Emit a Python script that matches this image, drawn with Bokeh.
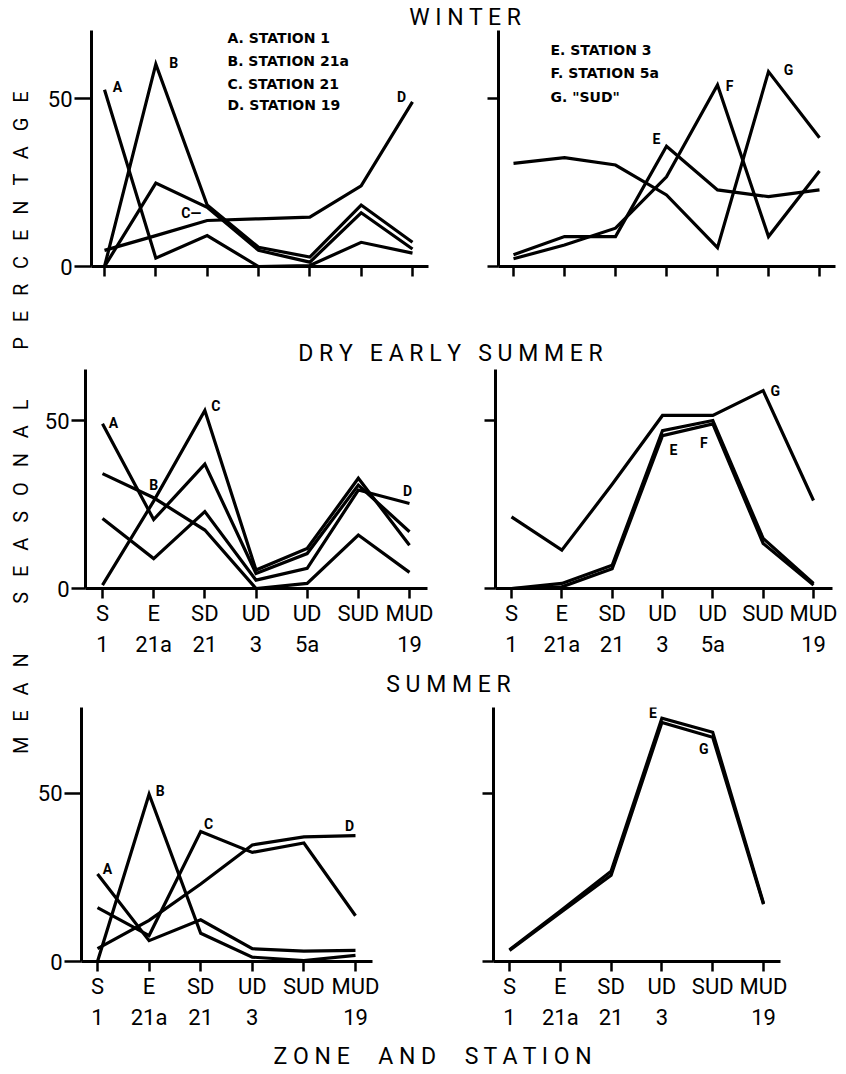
from math import pi
from bokeh.plotting import figure
from bokeh.models import Range1d, FixedTicker, Label
from bokeh.layouts import row, column
from bokeh.embed import file_html
from bokeh.resources import INLINE

# ---------------- data ----------------
zones_seven = ["S\n1", "E\n21a", "SD\n21", "UD\n3", "UD\n5a", "SUD", "MUD\n19"]
zones_six = ["S\n1", "E\n21a", "SD\n21", "UD\n3", "SUD", "MUD\n19"]
y_ticks = [0, 50]

winter_A = [52.6, 2.5, 9.2, 0.0, 0.3, 7.2, 4.0]
winter_B = [0.0, 60.2, 18.3, 5.7, 2.8, 18.3, 7.2]
winter_C = [0.0, 24.8, 17.6, 4.8, 1.3, 16.0, 5.2]
winter_D = [4.8, 9.2, 13.7, 14.2, 14.7, 24.0, 49.0]
winter_E = [3.5, 8.9, 8.9, 35.8, 22.8, 20.8, 22.8]
winter_F = [2.3, 6.4, 11.4, 26.7, 54.0, 8.9, 28.4]
winter_G = [30.7, 32.4, 30.2, 21.3, 5.6, 58.0, 38.3]

dry_A = [49.0, 20.5, 37.0, 4.5, 10.4, 30.8, 16.9]
dry_B = [34.2, 27.0, 17.4, 0.0, 1.5, 15.9, 4.8]
dry_C = [1.0, 26.0, 53.0, 5.5, 11.9, 32.8, 12.9]
dry_D = [20.8, 8.9, 22.9, 2.5, 6.0, 29.3, 25.3]
dry_E = [0.0, 0.5, 5.9, 45.5, 49.0, 13.4, 1.0]
dry_F = [0.0, 1.5, 6.9, 47.0, 50.0, 14.9, 1.5]
dry_G = [21.3, 11.4, 31.0, 51.5, 51.5, 58.9, 26.2]

summer_A = [26.0, 6.2, 12.4, 3.8, 3.1, 3.3]
summer_B = [0.0, 49.7, 8.4, 1.3, 0.3, 1.8]
summer_C = [16.0, 7.7, 38.6, 32.4, 35.2, 13.6]
summer_D = [3.8, 12.2, 23.0, 34.6, 37.0, 37.4]
summer_E = [3.5, 15.0, 26.8, 72.3, 68.1, 17.3]
summer_G = [3.3, 14.5, 25.6, 71.0, 66.6, 17.0]

legend_left = ["A. STATION 1", "B. STATION 21a", "C. STATION 21", "D. STATION 19"]
legend_right = ["E. STATION 3", "F. STATION 5a", 'G. "SUD"']

NB = "\u00a0"


def spaced(words, k_letter, k_word):
    sep_l = " " + NB * (k_letter - 1)
    sep_w = " " + NB * (k_word - 1)
    return sep_w.join(sep_l.join(list(w)) for w in words)


# ---------------- helpers ----------------
def panel(geo, series, tags, xlabels, show_y, legend=None, legend_pos=None):
    fl, ft, w, h = geo["left"], geo["top"], geo["w"], geo["h"]
    frl, frr, frt, frb = geo["fl"], geo["fr"], geo["ft"], geo["fb"]
    n = len(xlabels)
    ppx = (geo["t_last"] - geo["t_first"]) / (n - 1)
    ppy = geo["ppy"]
    xs0 = 1 - (geo["t_first"] - frl) / ppx
    xs1 = xs0 + (frr - frl) / ppx
    ys1 = (frb - frt) / ppy
    p = figure(width=w, height=h, x_range=Range1d(xs0, xs1), y_range=Range1d(0, ys1),
               toolbar_location=None, tools="", output_backend="svg",
               min_border_left=frl - fl, min_border_right=fl + w - frr,
               min_border_top=frt - ft, min_border_bottom=ft + h - frb,
               outline_line_color=None, background_fill_color="white")
    p.xgrid.visible = False
    p.ygrid.visible = False
    xs = list(range(1, n + 1))
    for s in series:
        p.line(xs, s, line_width=3.2, line_color="black", line_join="miter")
    xa = p.xaxis[0]
    xa.ticker = FixedTicker(ticks=xs)
    xa.major_label_overrides = {i + 1: lab for i, lab in enumerate(xlabels)}
    xa.major_tick_in = 0
    xa.major_tick_out = 10
    xa.minor_tick_line_color = None
    xa.axis_line_width = 3
    xa.major_tick_line_width = 2.5
    xa.major_label_text_font = "Roboto"
    xa.major_label_text_font_size = "22px"
    xa.major_label_text_color = "black"
    xa.major_label_text_line_height = 1.25
    xa.major_label_standoff = 2
    ya = p.yaxis[0]
    ya.ticker = FixedTicker(ticks=y_ticks)
    ya.major_label_overrides = {t: (str(t) if show_y else "") for t in y_ticks}
    ya.major_tick_in = 0
    ya.major_tick_out = geo["ytick"]
    ya.minor_tick_line_color = None
    ya.axis_line_width = 3
    ya.major_tick_line_width = 2.5
    ya.major_label_text_font = "Roboto"
    ya.major_label_text_font_size = "22px"
    ya.major_label_text_color = "black"
    ya.major_label_standoff = 2

    def dx(px):
        return xs0 + (px - frl) / ppx

    def dy(py):
        return (frb - py) / ppy

    for letter, s, idx, ox, oy in tags:
        p.add_layout(Label(x=idx + 1 + ox / ppx, y=s[idx] + oy / ppy, text=letter,
                           text_align="center", text_baseline="middle",
                           text_font="Roboto", text_font_size="14px",
                           text_font_style="bold", text_color="black"))
    if legend:
        lx, lys = legend_pos
        for txt, ly in zip(legend, lys):
            p.add_layout(Label(x=dx(lx), y=dy(ly), text=txt, text_align="left",
                               text_baseline="middle", text_font="DejaVu Sans",
                               text_font_size="14px", text_font_style="bold",
                               text_color="black"))
    return p


def strip(left, top, w, h, text, cx, cy, size, angle=0.0, font="Roboto"):
    p = figure(width=w, height=h, x_range=Range1d(0, w), y_range=Range1d(0, h),
               x_axis_type=None, y_axis_type=None, toolbar_location=None, tools="",
               output_backend="svg", min_border=0, min_border_left=0,
               min_border_right=0, min_border_top=0, min_border_bottom=0,
               outline_line_color=None)
    p.add_layout(Label(x=cx - left, y=top + h - cy, text=text, text_align="center",
                       text_baseline="middle", angle=angle, text_font=font,
                       text_font_size=f"{size}px", text_color="black"))
    return p


# ---------------- panels (page pixel geometry) ----------------
g_wl = dict(left=34, top=30, w=426, h=308, fl=91, fr=428, ft=30, fb=266, t_first=104, t_last=412, ppy=3.36, ytick=17)
g_wr = dict(left=460, top=30, w=378, h=308, fl=498, fr=835, ft=30, fb=266, t_first=513, t_last=819, ppy=3.36, ytick=11)
g_dl = dict(left=34, top=367, w=426, h=302, fl=85, fr=427, ft=369, fb=588, t_first=102, t_last=409, ppy=3.36, ytick=14)
g_dr = dict(left=460, top=367, w=378, h=302, fl=495, fr=832, ft=369, fb=588, t_first=511, t_last=813, ppy=3.36, ytick=11)
g_sl = dict(left=34, top=700, w=426, h=332, fl=81, fr=372, ft=707, fb=962, t_first=97, t_last=355, ppy=3.38, ytick=17)
g_sr = dict(left=460, top=700, w=378, h=332, fl=493, fr=780, ft=707, fb=962, t_first=509, t_last=763, ppy=3.38, ytick=11)

blank7 = [""] * 7

wl = panel(g_wl, [winter_A, winter_B, winter_C, winter_D],
           [("A", winter_A, 0, 13, 3), ("B", winter_B, 1, 18, 1),
            ("C\u2014", winter_C, 2, -16, -6), ("D", winter_D, 6, -11, 5)],
           blank7, True, legend_left, (227, [37, 60, 83, 104]))
wr = panel(g_wr, [winter_E, winter_F, winter_G],
           [("E", winter_E, 3, -10, 7), ("F", winter_F, 4, 12, -1), ("G", winter_G, 5, 20, 2)],
           blank7, False, legend_right, (550, [49, 72, 96]))
dl = panel(g_dl, [dry_A, dry_B, dry_C, dry_D],
           [("A", dry_A, 0, 11, 1), ("B", dry_B, 1, 0, 13), ("C", dry_C, 2, 11, 4), ("D", dry_D, 6, -2, 12)],
           zones_seven, True)
dr = panel(g_dr, [dry_E, dry_F, dry_G],
           [("E", dry_E, 3, 11, -14), ("F", dry_F, 4, -9, -22), ("G", dry_G, 5, 12, 0)],
           zones_seven, False)
sl = panel(g_sl, [summer_A, summer_B, summer_C, summer_D],
           [("A", summer_A, 0, 10, 5), ("B", summer_B, 1, 11, 3), ("C", summer_C, 2, 8, 8), ("D", summer_D, 5, -6, 10)],
           zones_six, True)
sr = panel(g_sr, [summer_E, summer_G],
           [("E", summer_E, 3, -9, 5), ("G", summer_G, 4, -9, -12)],
           zones_six, False)

t_winter = strip(34, 0, 804, 30, spaced(["WINTER"], 1, 3), 465, 16.5, 23)
t_dry = strip(34, 338, 804, 29, spaced(["DRY", "EARLY", "SUMMER"], 1, 3), 450, 353, 23)
t_summer = strip(34, 669, 804, 31, spaced(["SUMMER"], 1, 3), 448, 684, 23)
t_x = strip(34, 1032, 804, 40, spaced(["ZONE", "AND", "STATION"], 1, 5), 433, 1056, 23)
t_y = strip(0, 0, 34, 1072, spaced(["MEAN", "SEASONAL", "PERCENTAGE"], 3, 10), 20, 422, 20, angle=pi / 2)

layout = row(t_y, column(t_winter, row(wl, wr), t_dry, row(dl, dr), t_summer, row(sl, sr), t_x))

open("out.html", "w").write(file_html(layout, INLINE))
